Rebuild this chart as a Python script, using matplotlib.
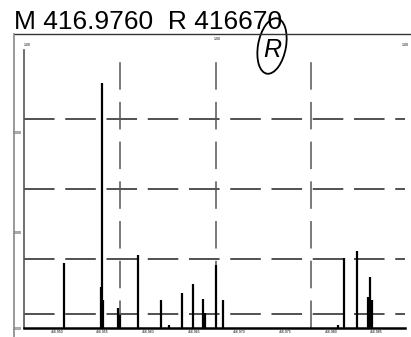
import matplotlib
matplotlib.use("Agg")
import matplotlib.pyplot as plt
from matplotlib.lines import Line2D
from matplotlib.patches import Ellipse

plt.rcParams['font.family'] = ['Liberation Sans', 'DejaVu Sans']

title = "M 416.9760  R 416670"

# peak centroids (m/z) and relative intensities (%)
peak_mz = [416.95077, 416.95481, 416.95492, 416.95503, 416.95667, 416.95689,
           416.95886, 416.96138, 416.96225, 416.96368, 416.96488, 416.96597,
           416.96619, 416.96740, 416.96816, 416.98074, 416.98140, 416.98282,
           416.98403, 416.98425, 416.98446]
peak_int = [23.4, 14.7, 88.1, 10.0, 7.2, 4.7,
            26.3, 10.1, 1.1, 12.6, 15.8, 10.4,
            5.4, 22.7, 10.1, 1.1, 25.2, 27.7,
            11.2, 18.3, 10.0]

x_ticks = [416.950, 416.955, 416.960, 416.965, 416.970, 416.975, 416.980, 416.985]
x_tick_labels = ["416.950", "416.955", "416.960", "416.965", "416.970", "416.975", "416.980", "416.985"]
y_ticks = [0, 34.5, 70.5]
y_tick_labels = ["0.000", "1.000", "2.000"]
h_grid = [5, 25, 50, 75]
v_grid = [416.95689, 416.96740, 416.97779]

W, H = 411, 337
fig = plt.figure(figsize=(W / 100, H / 100), dpi=100)
ax = fig.add_axes([24 / W, (H - 328) / H, 381 / W, 278 / H])

ax.vlines(peak_mz, 0, peak_int, color='black', lw=1.6)
for g in h_grid:
    ax.axhline(g, color='#222222', lw=1.1, dashes=(20, 7), zorder=0)
for v in v_grid:
    ax.axvline(v, color='#555555', lw=1.1, dashes=(18, 8), zorder=0)

ax.set_xlim(416.9464, 416.9881)
ax.set_ylim(0, 100)
ax.set_xticks(x_ticks)
ax.set_xticklabels(x_tick_labels, fontsize=2.5)
ax.set_yticks(y_ticks)
ax.set_yticklabels(y_tick_labels, fontsize=2.5)
ax.tick_params(length=0, pad=1.5)
for s in ['top', 'right']:
    ax.spines[s].set_visible(False)
ax.spines['left'].set_color('#555555')
ax.spines['left'].set_linewidth(1.2)
ax.spines['bottom'].set_color('black')
ax.spines['bottom'].set_linewidth(1.8)

# outer frame lines (pixel coordinates)
def px(x, y):
    return (x / W, 1 - y / H)

fig.add_artist(Line2D([px(14, 34)[0], px(411, 34)[0]], [px(14, 34)[1], px(411, 34)[1]],
                      color='#333333', lw=1.0))
fig.add_artist(Line2D([px(14, 34)[0], px(14, 337)[0]], [px(14, 34)[1], px(14, 337)[1]],
                      color='#888888', lw=1.2))

fig.text(14 / W, 1 - 29 / H, title, fontsize=19, ha='left', va='baseline', color='black')

# small scale marks at top
fig.text(27 / W, 1 - 46 / H, "1.00", fontsize=2.5, ha='center')
fig.text(217 / W, 1 - 40 / H, "1.00", fontsize=2.5, ha='center')
fig.text(405 / W, 1 - 46 / H, "1.00", fontsize=2.5, ha='center')

# handwritten circled mark
ell = Ellipse(px(272, 46), 28 / W, 56 / H, angle=-8, transform=fig.transFigure,
              fill=False, ec='black', lw=1.3)
fig.add_artist(ell)
fig.text(272 / W, 1 - 50 / H, "R", fontsize=18, style='italic', ha='center', va='center')

fig.savefig("out.png", dpi=100)
